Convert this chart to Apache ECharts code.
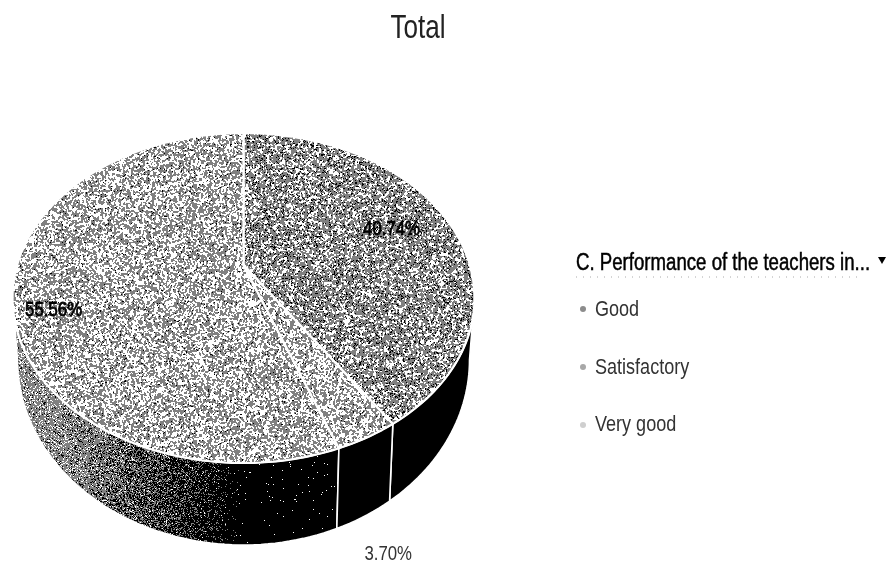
<!DOCTYPE html>
<html><head><meta charset="utf-8">
<style>html,body{margin:0;padding:0;background:#fff}#c{width:892px;height:567px}</style>
<script src="https://cdn.jsdelivr.net/npm/echarts@6/dist/echarts.min.js"></script>
</head><body><div id="c"></div>
<script>
// ---- data ----
const titleText = 'Total';
const legendTitle = 'C. Performance of the teachers in...';
const legendNames = ['Good', 'Satisfactory', 'Very good'];
const sharePercent = [40.74, 55.56, 3.70];
const clockwiseOrder = ['Good', 'Very good', 'Satisfactory'];

// ---- projection of the tilted pie ----
const TOP = {cx: 243.5, cy: 298, rx: 231, ry: 165};
const BOTTOM = {cx: 243.5, cy: 360, rx: 226, ry: 185};
const TILT = -0.2;
const SIDE_FROM = 101.5, SIDE_TO = 258.5;
const FONT = '"Liberation Sans",sans-serif';
const labelOffset = {'Good': [-57, 7], 'Satisfactory': [41, 17], 'Very good': [21, 117]};
const legendColor = {'Good': '#8c8c8c', 'Satisfactory': '#a8a8a8', 'Very good': '#cfcfcf'};

function hash(x, y, s) {
  let h = (x * 374761393 + y * 668265263 + s * 2147483647) | 0;
  h = Math.imul(h ^ (h >>> 13), 1274126177);
  h = h ^ (h >>> 16);
  return ((h >>> 0) % 10000) / 10000;
}
function blob(x, y, s, w, h) {
  const X = (x + 1) % w, Y = (y + 1) % h;
  return (hash(x, y, s) + hash(X, y, s) + hash(x, Y, s) + hash(X, Y, s)) / 4;
}
function texture(w, h, pick) {
  const c = document.createElement('canvas'); c.width = w; c.height = h;
  const g = c.getContext('2d'); const im = g.createImageData(w, h);
  for (let y = 0; y < h; y++) for (let x = 0; x < w; x++) {
    const v = pick(x, y), i = (y * w + x) * 4;
    im.data[i] = im.data[i + 1] = im.data[i + 2] = v; im.data[i + 3] = 255;
  }
  g.putImageData(im, 0, 0); return c;
}
const worm = (whiteAbove, blackShare, s, w, h) => (x, y) => {
  const n = blob(x, y, s, w, h);
  if (n > whiteAbove) return 255;
  return hash(x, y, s + 7) < blackShare ? 0 : 128;
};
const goodTex = texture(256, 256, worm(0.58, 0.16, 1, 256, 256));
const satTex = texture(256, 256, worm(0.51, 0.05, 2, 256, 256));
const veryTex = texture(256, 256, worm(0.50, 0.04, 3, 256, 256));
const satSideTex = texture(892, 567, (x, y) => {
  const t = Math.min(1, Math.max(0, (x - 60) / 180));
  const white = 0.20 * (1 - t) * (1 - t) + 0.008;
  const black = 0.10 + 0.90 * t;
  const r = hash(x, y, 4);
  return r < white ? 255 : r < white + black * (1 - white) ? 0 : 128;
});
const topFill = {'Good': goodTex, 'Satisfactory': satTex, 'Very good': veryTex};
const sideFill = {'Good': '#000', 'Satisfactory': satSideTex, 'Very good': '#000'};

function project(deg, E) {
  const a = deg * Math.PI / 180, X = Math.sin(a), Y = -Math.cos(a);
  const d = 1 + TILT * Y;
  return [E.cx + E.rx * X * Math.sqrt(1 - TILT * TILT) / d, E.cy + E.ry * (Y + TILT) / d];
}
function arc(from, to, E) {
  const out = [], n = Math.max(2, Math.ceil(Math.abs(to - from) / 1.5));
  for (let i = 0; i <= n; i++) out.push(project(from + (to - from) * i / n, E));
  return out;
}
const total = sharePercent.reduce((a, b) => a + b, 0);
const sweep = {};
let running = 0;
clockwiseOrder.forEach(n => {
  const v = sharePercent[legendNames.indexOf(n)];
  sweep[n] = [running / total * 360, (running + v) / total * 360];
  running += v;
});

function renderSlice(name) {
  return function (params, api) {
    const [a0, a1] = sweep[name];
    const value = api.value(0);
    const children = [];
    const s0 = Math.max(a0, SIDE_FROM), s1 = Math.min(a1, SIDE_TO);
    if (s1 > s0) {
      children.push({type: 'polygon', z2: 1,
        shape: {points: arc(s0, s1, TOP).concat(arc(s1, s0, BOTTOM))},
        style: {fill: sideFill[name] === '#000' ? '#000' : {image: sideFill[name], repeat: 'no-repeat'}, stroke: '#fff', lineWidth: 1.6}});
    }
    const apex = [TOP.cx, TOP.cy + TOP.ry * TILT];
    children.push({type: 'polygon', z2: 5,
      shape: {points: [apex].concat(arc(a0, a1, TOP))},
      style: {fill: {image: topFill[name], repeat: 'repeat'}, stroke: '#fff', lineWidth: 2.2, lineJoin: 'round'}});
    const m = project((a0 + a1) / 2, TOP), off = labelOffset[name];
    const onWhite = name === 'Very good';
    children.push({type: 'text', z2: 10, x: m[0] + off[0], y: m[1] + off[1], scaleX: 0.8,
      style: {text: value.toFixed(2) + '%', x: 0, y: 0, align: 'center', verticalAlign: 'middle',
        fill: onWhite ? '#333' : '#000', stroke: onWhite ? null : '#000', lineWidth: onWhite ? 0 : 0.8, font: '21px ' + FONT}});
    return {type: 'group', children};
  };
}

const condensed = (text, x, y, size, scaleX, fill, extra) => ({
  type: 'text', x, y, scaleX, z: 20,
  style: Object.assign({text, x: 0, y: 0, verticalAlign: 'middle', fill, font: size + 'px ' + FONT}, extra || {})
});

const chart = echarts.init(document.getElementById('c'), null, {renderer: 'canvas'});
chart.setOption({
  animation: false,
  backgroundColor: '#fff',
  legend: {
    orient: 'vertical', left: 575, top: 293,
    data: legendNames, icon: 'circle', itemWidth: 6, itemHeight: 6, itemGap: 36,
    selectedMode: false, formatter: () => ' ',
    textStyle: {fontFamily: FONT, fontSize: 22, color: '#333'}
  },
  graphic: [
    condensed(titleText, 418, 29, 33, 0.79, '#222', {align: 'center'}),
    condensed(legendTitle, 576, 264, 23, 0.81, '#000', {stroke: '#000', lineWidth: 0.5}),
    {type: 'polygon', z: 20, shape: {points: [[878, 257], [886, 257], [882, 264]]}, style: {fill: '#000'}},
    {type: 'line', z: 20, shape: {x1: 576, y1: 277, x2: 860, y2: 277}, style: {stroke: '#aaa', lineWidth: 1, lineDash: [1, 6]}},
    condensed(legendNames[0], 595, 310, 22, 0.82, '#333'),
    condensed(legendNames[1], 595, 368, 22, 0.82, '#333'),
    condensed(legendNames[2], 595, 425, 22, 0.82, '#333')
  ],
  series: legendNames.map((n, i) => ({
    type: 'custom', name: n, coordinateSystem: 'none', silent: true,
    itemStyle: {color: legendColor[n]},
    renderItem: renderSlice(n),
    data: [{name: n, value: [sharePercent[i]]}]
  }))
});
</script></body></html>
